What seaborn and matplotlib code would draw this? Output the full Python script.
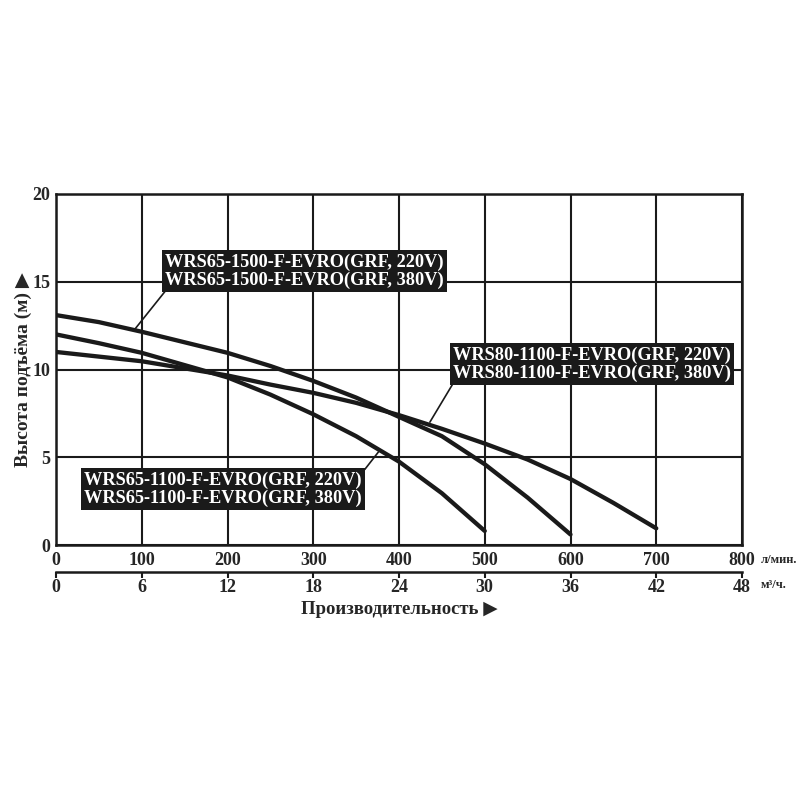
import pandas as pd
import matplotlib.pyplot as plt
import seaborn as sns

# кривые насосов (расход л/мин., напор м)
flow_65_1500 = [0, 50, 100, 200, 250, 300, 350, 400, 450, 500, 550, 600]
head_65_1500 = [13.1, 12.7, 12.15, 10.95, 10.2, 9.35, 8.4, 7.3, 6.2, 4.6, 2.7, 0.6]

flow_65_1100 = [0, 50, 100, 150, 200, 250, 300, 350, 400, 450, 500]
head_65_1100 = [12.0, 11.5, 10.95, 10.25, 9.55, 8.57, 7.45, 6.2, 4.75, 2.95, 0.8]

flow_80_1100 = [0, 100, 200, 250, 300, 350, 400, 450, 500, 550, 600, 650, 700]
head_80_1100 = [11.0, 10.47, 9.66, 9.14, 8.67, 8.1, 7.4, 6.62, 5.78, 4.87, 3.76, 2.4, 0.95]

lpm_ticks = [0, 100, 200, 300, 400, 500, 600, 700, 800]
m3h_ticks = [0, 6, 12, 18, 24, 30, 36, 42, 48]
head_ticks = [0, 5, 10, 15, 20]

label_65_1500 = 'WRS65-1500-F-EVRO(GRF, 220V)\nWRS65-1500-F-EVRO(GRF, 380V)'
label_80_1100 = 'WRS80-1100-F-EVRO(GRF, 220V)\nWRS80-1100-F-EVRO(GRF, 380V)'
label_65_1100 = 'WRS65-1100-F-EVRO(GRF, 220V)\nWRS65-1100-F-EVRO(GRF, 380V)'

sns.set_theme(style='white')
plt.rcParams['font.family'] = ['Liberation Serif', 'DejaVu Sans']
plt.rcParams['font.weight'] = 'bold'

fig = plt.figure(figsize=(8, 8), dpi=100)
ax = fig.add_axes([0.07, 0.31875, 0.8575, 0.43875])

for fl, hd in [(flow_65_1500, head_65_1500), (flow_65_1100, head_65_1100), (flow_80_1100, head_80_1100)]:
    d = pd.DataFrame({'flow': fl, 'head': hd})
    sns.lineplot(data=d, x='flow', y='head', ax=ax, color='#1a1a1a', linewidth=3.1, zorder=3)

ax.set_xlim(0, 800)
ax.set_ylim(0, 20)
ax.set_xticks(lpm_ticks)
ax.set_yticks(head_ticks)
ax.set_xticklabels([str(t) for t in lpm_ticks], fontsize=13, fontweight='bold')
ax.set_yticklabels([str(t) for t in head_ticks], fontsize=13, fontweight='bold')
ax.tick_params(axis='y', length=0, pad=4)
ax.tick_params(axis='x', length=0, pad=5)
ax.grid(True, color='#1a1a1a', linewidth=1.5)
ax.set_axisbelow(True)
for s in ax.spines.values():
    s.set_color('#1a1a1a')
    s.set_linewidth(1.8)
ax.set_xlabel('')
ax.set_ylabel('Высота подъёма (м) ▶', fontsize=14, fontweight='bold', labelpad=0)

# подписи моделей
box = dict(boxstyle='square,pad=0.18', fc='#1a1a1a', ec='none')
txt = dict(color='white', fontsize=13.2, fontweight='bold', ha='left', va='top',
           linespacing=1.05, bbox=box, zorder=5)
ax.text(127, 16.6, label_65_1500, **txt)
ax.text(463, 11.3, label_80_1100, **txt)
ax.text(33, 4.2, label_65_1100, **txt)
ax.plot([128, 92], [14.5, 12.3], color='#1a1a1a', lw=1.2, zorder=4)
ax.plot([463, 436], [9.2, 7.0], color='#1a1a1a', lw=1.2, zorder=4)
ax.plot([360, 376], [4.3, 5.3], color='#1a1a1a', lw=1.2, zorder=4)

fig.text(0.951, 0.3, 'л/мин.', fontsize=9, fontweight='bold', va='center')

# вторая шкала м³/ч.
ax2 = fig.add_axes([0.07, 0.285, 0.8575, 0.001])
ax2.set_xlim(0, 48)
ax2.set_xticks(m3h_ticks)
ax2.set_xticklabels([str(t) for t in m3h_ticks], fontsize=13, fontweight='bold')
ax2.set_yticks([])
for k in ['top', 'left', 'right']:
    ax2.spines[k].set_visible(False)
ax2.spines['bottom'].set_color('#1a1a1a')
ax2.spines['bottom'].set_linewidth(1.8)
ax2.tick_params(axis='x', direction='out', length=4, width=1.5, color='#1a1a1a', pad=1, bottom=True)
fig.text(0.951, 0.269, 'м³/ч.', fontsize=9, fontweight='bold', va='center')

fig.text(0.499, 0.2375, 'Производительность ▶', fontsize=13.5, fontweight='bold', ha='center', va='center')

plt.savefig('out.png', dpi=100, facecolor='white')
plt.close()
